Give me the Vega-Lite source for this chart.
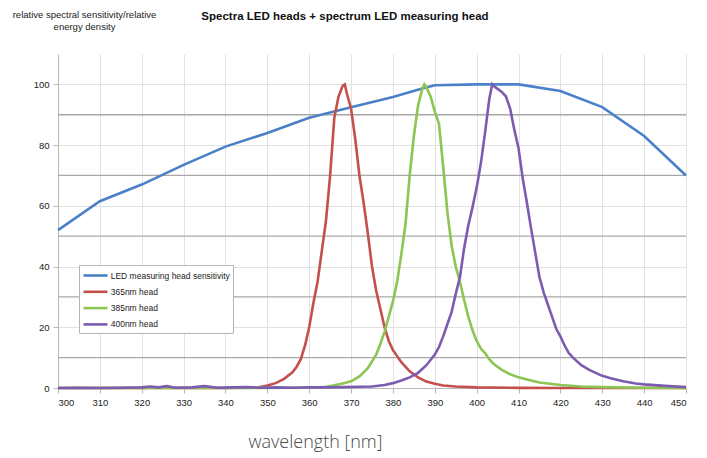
{
  "$schema": "https://vega.github.io/schema/vega-lite/v6.json",
  "width": 628,
  "height": 334,
  "autosize": {"type": "none"},
  "padding": {"left": 58, "top": 54, "right": 21, "bottom": 70},
  "background": "white",
  "config": {"view": {"stroke": null}, "font": "Liberation Sans"},
  "title": {
    "text": "Spectra LED heads + spectrum LED measuring head",
    "font": "Liberation Sans",
    "fontSize": 11.5,
    "fontWeight": "bold",
    "color": "#111111",
    "anchor": "middle",
    "frame": "group",
    "dx": -27,
    "offset": -13
  },
  "datasets": {
    "grid": [{"v": 10}, {"v": 30}, {"v": 50}, {"v": 70}, {"v": 90}],
    "curves": [
      {"s": "LED measuring head sensitivity", "nm": 300, "v": 52},
      {"s": "LED measuring head sensitivity", "nm": 310, "v": 61.5},
      {"s": "LED measuring head sensitivity", "nm": 320, "v": 67},
      {"s": "LED measuring head sensitivity", "nm": 330, "v": 73.5},
      {"s": "LED measuring head sensitivity", "nm": 340, "v": 79.5},
      {"s": "LED measuring head sensitivity", "nm": 350, "v": 84},
      {"s": "LED measuring head sensitivity", "nm": 360, "v": 89},
      {"s": "LED measuring head sensitivity", "nm": 370, "v": 92.5},
      {"s": "LED measuring head sensitivity", "nm": 380, "v": 95.8},
      {"s": "LED measuring head sensitivity", "nm": 387, "v": 98.6},
      {"s": "LED measuring head sensitivity", "nm": 390, "v": 99.7},
      {"s": "LED measuring head sensitivity", "nm": 400, "v": 100},
      {"s": "LED measuring head sensitivity", "nm": 410, "v": 100},
      {"s": "LED measuring head sensitivity", "nm": 420, "v": 97.8},
      {"s": "LED measuring head sensitivity", "nm": 430, "v": 92.5},
      {"s": "LED measuring head sensitivity", "nm": 440, "v": 83},
      {"s": "LED measuring head sensitivity", "nm": 450, "v": 70},

      {"s": "365nm head", "nm": 300, "v": 0},
      {"s": "365nm head", "nm": 320, "v": 0},
      {"s": "365nm head", "nm": 340, "v": 0},
      {"s": "365nm head", "nm": 345, "v": 0.1},
      {"s": "365nm head", "nm": 348, "v": 0.2},
      {"s": "365nm head", "nm": 350, "v": 0.8},
      {"s": "365nm head", "nm": 352, "v": 1.6},
      {"s": "365nm head", "nm": 354, "v": 3},
      {"s": "365nm head", "nm": 356, "v": 5.2},
      {"s": "365nm head", "nm": 357, "v": 7},
      {"s": "365nm head", "nm": 358, "v": 9.5},
      {"s": "365nm head", "nm": 359, "v": 14},
      {"s": "365nm head", "nm": 360, "v": 20},
      {"s": "365nm head", "nm": 361, "v": 28},
      {"s": "365nm head", "nm": 362, "v": 35},
      {"s": "365nm head", "nm": 363, "v": 45},
      {"s": "365nm head", "nm": 364, "v": 55},
      {"s": "365nm head", "nm": 365, "v": 70},
      {"s": "365nm head", "nm": 366, "v": 89},
      {"s": "365nm head", "nm": 367, "v": 96},
      {"s": "365nm head", "nm": 368, "v": 99.5},
      {"s": "365nm head", "nm": 368.5, "v": 100},
      {"s": "365nm head", "nm": 369, "v": 97},
      {"s": "365nm head", "nm": 370, "v": 92},
      {"s": "365nm head", "nm": 371, "v": 82},
      {"s": "365nm head", "nm": 372, "v": 70},
      {"s": "365nm head", "nm": 373, "v": 61},
      {"s": "365nm head", "nm": 374, "v": 51},
      {"s": "365nm head", "nm": 375, "v": 40},
      {"s": "365nm head", "nm": 376, "v": 32},
      {"s": "365nm head", "nm": 377, "v": 26},
      {"s": "365nm head", "nm": 378, "v": 20},
      {"s": "365nm head", "nm": 379, "v": 15.5},
      {"s": "365nm head", "nm": 380, "v": 12.5},
      {"s": "365nm head", "nm": 381, "v": 10.5},
      {"s": "365nm head", "nm": 382, "v": 8.5},
      {"s": "365nm head", "nm": 384, "v": 5.5},
      {"s": "365nm head", "nm": 386, "v": 3.5},
      {"s": "365nm head", "nm": 388, "v": 2.1},
      {"s": "365nm head", "nm": 390, "v": 1.4},
      {"s": "365nm head", "nm": 392, "v": 0.8},
      {"s": "365nm head", "nm": 395, "v": 0.5},
      {"s": "365nm head", "nm": 400, "v": 0.2},
      {"s": "365nm head", "nm": 410, "v": 0.05},
      {"s": "365nm head", "nm": 420, "v": 0},
      {"s": "365nm head", "nm": 450, "v": 0},

      {"s": "385nm head", "nm": 300, "v": 0},
      {"s": "385nm head", "nm": 340, "v": 0},
      {"s": "385nm head", "nm": 360, "v": 0.1},
      {"s": "385nm head", "nm": 362, "v": 0.2},
      {"s": "385nm head", "nm": 364, "v": 0.4},
      {"s": "385nm head", "nm": 366, "v": 0.9},
      {"s": "385nm head", "nm": 368, "v": 1.5},
      {"s": "385nm head", "nm": 370, "v": 2.2},
      {"s": "385nm head", "nm": 372, "v": 3.8},
      {"s": "385nm head", "nm": 374, "v": 6.5},
      {"s": "385nm head", "nm": 376, "v": 11},
      {"s": "385nm head", "nm": 377, "v": 14.5},
      {"s": "385nm head", "nm": 378, "v": 18.5},
      {"s": "385nm head", "nm": 379, "v": 23.5},
      {"s": "385nm head", "nm": 380, "v": 28.5},
      {"s": "385nm head", "nm": 381, "v": 35},
      {"s": "385nm head", "nm": 382, "v": 44},
      {"s": "385nm head", "nm": 383, "v": 54},
      {"s": "385nm head", "nm": 384, "v": 70},
      {"s": "385nm head", "nm": 385, "v": 83},
      {"s": "385nm head", "nm": 386, "v": 93},
      {"s": "385nm head", "nm": 387, "v": 98.5},
      {"s": "385nm head", "nm": 387.5, "v": 100},
      {"s": "385nm head", "nm": 388, "v": 99},
      {"s": "385nm head", "nm": 389, "v": 96},
      {"s": "385nm head", "nm": 390, "v": 91},
      {"s": "385nm head", "nm": 391, "v": 87},
      {"s": "385nm head", "nm": 392, "v": 73},
      {"s": "385nm head", "nm": 393, "v": 58},
      {"s": "385nm head", "nm": 394, "v": 47},
      {"s": "385nm head", "nm": 395, "v": 40},
      {"s": "385nm head", "nm": 396, "v": 35},
      {"s": "385nm head", "nm": 397, "v": 29},
      {"s": "385nm head", "nm": 398, "v": 23.5},
      {"s": "385nm head", "nm": 399, "v": 19},
      {"s": "385nm head", "nm": 400, "v": 15.5},
      {"s": "385nm head", "nm": 401, "v": 13},
      {"s": "385nm head", "nm": 402, "v": 11.5},
      {"s": "385nm head", "nm": 403, "v": 9.5},
      {"s": "385nm head", "nm": 404, "v": 8},
      {"s": "385nm head", "nm": 406, "v": 6},
      {"s": "385nm head", "nm": 408, "v": 4.5},
      {"s": "385nm head", "nm": 410, "v": 3.5},
      {"s": "385nm head", "nm": 412, "v": 2.8},
      {"s": "385nm head", "nm": 415, "v": 1.8},
      {"s": "385nm head", "nm": 420, "v": 1},
      {"s": "385nm head", "nm": 425, "v": 0.5},
      {"s": "385nm head", "nm": 430, "v": 0.3},
      {"s": "385nm head", "nm": 440, "v": 0.1},
      {"s": "385nm head", "nm": 450, "v": 0},

      {"s": "400nm head", "nm": 300, "v": 0},
      {"s": "400nm head", "nm": 305, "v": 0.1},
      {"s": "400nm head", "nm": 310, "v": 0},
      {"s": "400nm head", "nm": 315, "v": 0.1},
      {"s": "400nm head", "nm": 320, "v": 0.2},
      {"s": "400nm head", "nm": 322, "v": 0.5},
      {"s": "400nm head", "nm": 324, "v": 0.2},
      {"s": "400nm head", "nm": 326, "v": 0.6},
      {"s": "400nm head", "nm": 328, "v": 0.1},
      {"s": "400nm head", "nm": 332, "v": 0.2},
      {"s": "400nm head", "nm": 335, "v": 0.6},
      {"s": "400nm head", "nm": 338, "v": 0.1},
      {"s": "400nm head", "nm": 342, "v": 0.2},
      {"s": "400nm head", "nm": 345, "v": 0.3},
      {"s": "400nm head", "nm": 348, "v": 0.1},
      {"s": "400nm head", "nm": 352, "v": 0.2},
      {"s": "400nm head", "nm": 356, "v": 0.1},
      {"s": "400nm head", "nm": 360, "v": 0.2},
      {"s": "400nm head", "nm": 364, "v": 0.2},
      {"s": "400nm head", "nm": 368, "v": 0.3},
      {"s": "400nm head", "nm": 372, "v": 0.4},
      {"s": "400nm head", "nm": 375, "v": 0.5},
      {"s": "400nm head", "nm": 378, "v": 1},
      {"s": "400nm head", "nm": 380, "v": 1.6},
      {"s": "400nm head", "nm": 382, "v": 2.5},
      {"s": "400nm head", "nm": 384, "v": 3.5},
      {"s": "400nm head", "nm": 386, "v": 5},
      {"s": "400nm head", "nm": 388, "v": 7.5},
      {"s": "400nm head", "nm": 390, "v": 11},
      {"s": "400nm head", "nm": 391, "v": 13.5},
      {"s": "400nm head", "nm": 392, "v": 17},
      {"s": "400nm head", "nm": 393, "v": 21},
      {"s": "400nm head", "nm": 394, "v": 25},
      {"s": "400nm head", "nm": 395, "v": 31},
      {"s": "400nm head", "nm": 396, "v": 36.5},
      {"s": "400nm head", "nm": 397, "v": 46},
      {"s": "400nm head", "nm": 398, "v": 53.5},
      {"s": "400nm head", "nm": 399, "v": 59.5},
      {"s": "400nm head", "nm": 400, "v": 66},
      {"s": "400nm head", "nm": 401, "v": 74},
      {"s": "400nm head", "nm": 402, "v": 84},
      {"s": "400nm head", "nm": 403, "v": 95},
      {"s": "400nm head", "nm": 403.7, "v": 100},
      {"s": "400nm head", "nm": 404, "v": 99.5},
      {"s": "400nm head", "nm": 405, "v": 98.5},
      {"s": "400nm head", "nm": 406, "v": 97.5},
      {"s": "400nm head", "nm": 407, "v": 96},
      {"s": "400nm head", "nm": 408, "v": 92},
      {"s": "400nm head", "nm": 409, "v": 85},
      {"s": "400nm head", "nm": 410, "v": 79},
      {"s": "400nm head", "nm": 411, "v": 69},
      {"s": "400nm head", "nm": 412, "v": 61},
      {"s": "400nm head", "nm": 413, "v": 52.5},
      {"s": "400nm head", "nm": 414, "v": 44.5},
      {"s": "400nm head", "nm": 415, "v": 36.5},
      {"s": "400nm head", "nm": 416, "v": 31.5},
      {"s": "400nm head", "nm": 417, "v": 27.5},
      {"s": "400nm head", "nm": 418, "v": 23.5},
      {"s": "400nm head", "nm": 419, "v": 19.5},
      {"s": "400nm head", "nm": 420, "v": 17},
      {"s": "400nm head", "nm": 421, "v": 14},
      {"s": "400nm head", "nm": 422, "v": 11.5},
      {"s": "400nm head", "nm": 423, "v": 10},
      {"s": "400nm head", "nm": 425, "v": 7.5},
      {"s": "400nm head", "nm": 427, "v": 5.9},
      {"s": "400nm head", "nm": 430, "v": 4},
      {"s": "400nm head", "nm": 432, "v": 3.2},
      {"s": "400nm head", "nm": 435, "v": 2.2},
      {"s": "400nm head", "nm": 438, "v": 1.5},
      {"s": "400nm head", "nm": 440, "v": 1.2},
      {"s": "400nm head", "nm": 445, "v": 0.7},
      {"s": "400nm head", "nm": 450, "v": 0.3}
    ]
  },
  "encoding": {
    "y": {
      "field": "v",
      "type": "quantitative",
      "scale": {"domain": [0, 110], "nice": false, "zero": false},
      "axis": {
        "values": [0, 20, 40, 60, 80, 100],
        "grid": true,
        "gridColor": "#e2e2e2",
        "gridWidth": 1,
        "domainColor": "#b8b8b8",
        "tickColor": "#b8b8b8",
        "tickSize": 5,
        "labelFont": "Liberation Sans",
        "labelFontSize": 9.5,
        "labelColor": "#222222",
        "labelPadding": 4,
        "title": ["relative spectral sensitivity/relative", "energy density"],
        "titleFont": "Liberation Sans",
        "titleFontSize": 9.5,
        "titleFontWeight": "normal",
        "titleColor": "#222222",
        "titleAngle": 0,
        "titleAlign": "center",
        "titleBaseline": "top",
        "titleLineHeight": 12,
        "titleX": 26,
        "titleY": -45
      }
    }
  },
  "layer": [
    {
      "data": {"name": "grid"},
      "mark": {"type": "rule", "color": "#a8a8a8", "strokeWidth": 1.3}
    },
    {
      "data": {"name": "curves"},
      "mark": {"type": "line", "strokeWidth": 2.6, "interpolate": "linear"},
      "encoding": {
        "x": {
          "field": "nm",
          "type": "quantitative",
          "scale": {"domain": [300, 450], "nice": false, "zero": false},
          "axis": {
            "values": [300, 310, 320, 330, 340, 350, 360, 370, 380, 390, 400, 410, 420, 430, 440, 450],
            "grid": true,
            "gridColor": "#e2e2e2",
            "domainColor": "#b8b8b8",
            "tickColor": "#b8b8b8",
            "tickSize": 5,
            "labelFont": "Liberation Sans",
            "labelFontSize": 9.5,
            "labelColor": "#222222",
            "labelPadding": 4,
            "labelOverlap": false,
            "title": "wavelength [nm]",
            "titleFont": "Open Sans",
            "titleFontWeight": 300,
            "titleFontSize": 18,
            "titleColor": "#4a4a4a",
            "titleAlign": "center",
            "titleBaseline": "alphabetic",
            "titleX": 257,
            "titleY": 59
          }
        },
        "color": {
          "field": "s",
          "type": "nominal",
          "scale": {
            "domain": ["LED measuring head sensitivity", "365nm head", "385nm head", "400nm head"],
            "range": ["#4a80c8", "#c4504d", "#8cc553", "#7b5cb0"]
          },
          "legend": {
            "orient": "none",
            "legendX": 21,
            "legendY": 211,
            "title": null,
            "symbolType": "M-1,0H3",
            "symbolSize": 144,
            "symbolStrokeWidth": 2.6,
            "symbolFillColor": "transparent",
            "labelFont": "Liberation Sans",
            "labelFontSize": 8.5,
            "labelColor": "#222222",
            "labelOffset": 13.7,
            "strokeColor": "#b5b5b5",
            "fillColor": "white",
            "padding": 3,
            "rowPadding": 3.3
          }
        },
        "order": {"field": "nm", "type": "quantitative"}
      }
    }
  ]
}
